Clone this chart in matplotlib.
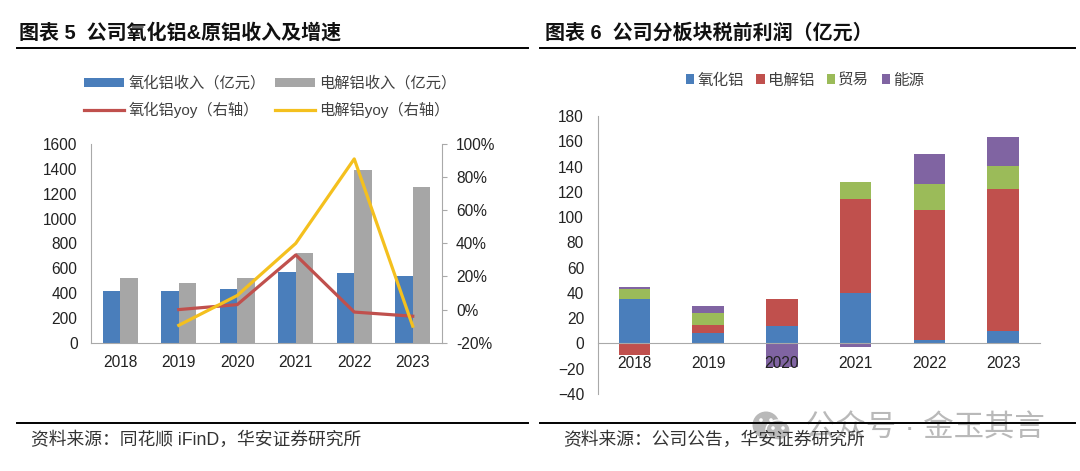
"""Two side by side panels: alumina / aluminium revenue and segment pre-tax profit."""

import matplotlib
matplotlib.use("Agg")
import matplotlib.pyplot as plt
import numpy as np
from matplotlib.patches import Circle, Ellipse

plt.rcParams["font.family"] = ["Liberation Sans", "Noto Sans CJK SC", "DejaVu Sans"]

years = ["2018", "2019", "2020", "2021", "2022", "2023"]

# left panel
alumina_rev = [420, 420, 435, 570, 560, 540]
aluminium_rev = [525, 480, 520, 725, 1390, 1255]
alumina_yoy = [None, 0, 3, 33, -1.5, -4]
aluminium_yoy = [None, -9.5, 8.5, 40, 91, -10]
left_ticks = [0, 200, 400, 600, 800, 1000, 1200, 1400, 1600]
right_ticks = [-20, 0, 20, 40, 60, 80, 100]

# right panel
seg_names = ["氧化铝", "电解铝", "贸易", "能源"]
seg_alumina = [35, 8, 14, 40, 3, 10]
seg_aluminium = [-9, 7, 21.5, 74, 103, 112]
seg_trade = [8, 9, 0, 14, 20.5, 18.5]
seg_energy = [2, 6, -19, -2.5, 23.5, 22.5]
profit_ticks = list(range(-40, 181, 20))

BLUE = "#4a7ebb"
GRAY = "#a6a6a6"
RED = "#c0504d"
YELLOW = "#f4c01e"
GREEN = "#9bbb59"
PURPLE = "#8064a2"
AXIS = "#a9a9a9"
TEXT = "#222222"
W, H = 1080, 471


def px_axes(fig, left, top, right, bottom):
    """Axes placed by pixel edges of the figure."""
    return fig.add_axes([left / W, 1 - bottom / H, (right - left) / W, (bottom - top) / H])


fig = plt.figure(figsize=(W / 100, H / 100), dpi=100)

# left panel: grouped bars plus yoy lines on the right axis
ax = px_axes(fig, 91, 144, 442, 342.7)
x = np.arange(len(years))
bar_w = 0.295
b1 = ax.bar(x - bar_w / 2, alumina_rev, bar_w, color=BLUE, label="氧化铝收入（亿元）")
b2 = ax.bar(x + bar_w / 2, aluminium_rev, bar_w, color=GRAY, label="电解铝收入（亿元）")
ax.set_xlim(-0.5, 5.5)
ax.set_ylim(0, 1600)
ax.set_yticks(left_ticks)
ax.set_xticks(x, years)
ax.tick_params(axis="y", length=0, pad=9.7, labelsize=11.2, labelcolor=TEXT)
ax.tick_params(axis="x", length=0, pad=9, labelsize=11.2, labelcolor=TEXT)
for side in ["top", "right"]:
    ax.spines[side].set_visible(False)
for side in ["left", "bottom"]:
    ax.spines[side].set_color(AXIS)

ax2 = ax.twinx()
yoy1 = np.array(alumina_yoy, dtype=float)
yoy2 = np.array(aluminium_yoy, dtype=float)
l1, = ax2.plot(x, yoy1, color=RED, lw=2.3, label="氧化铝yoy（右轴）")
l2, = ax2.plot(x, yoy2, color=YELLOW, lw=2.3, label="电解铝yoy（右轴）")
ax2.set_ylim(-20, 100)
ax2.set_yticks(right_ticks, [f"{t}%" for t in right_ticks])
ax2.tick_params(axis="y", length=3.6, width=0.8, color=AXIS, pad=6.5, labelsize=11.2, labelcolor=TEXT)
for side in ["top", "left", "bottom"]:
    ax2.spines[side].set_visible(False)
ax2.spines["right"].set_color(AXIS)

fig.legend(
    handles=[b1, l1, b2, l2], ncol=2, loc="center", bbox_to_anchor=(270 / W, 1 - 97 / H),
    frameon=False, fontsize=11, labelcolor="#404040", handlelength=2.65, handleheight=0.5,
    handletextpad=0.25, columnspacing=0.6, labelspacing=0.72, borderpad=0,
)

# right panel: stacked bars, negatives stacked downward from zero
ax3 = px_axes(fig, 597.5, 116, 1040, 394)
series = [seg_alumina, seg_aluminium, seg_trade, seg_energy]
colors = [BLUE, RED, GREEN, PURPLE]
pos = np.zeros(len(years))
neg = np.zeros(len(years))
handles = []
for vals, col, name in zip(series, colors, seg_names):
    vals = np.array(vals, dtype=float)
    base = np.where(vals >= 0, pos, neg)
    handles.append(ax3.bar(x, vals, 0.425, bottom=base, color=col, label=name))
    pos += np.clip(vals, 0, None)
    neg += np.clip(vals, None, 0)
ax3.set_xlim(-0.5, 5.5)
ax3.set_ylim(-40, 180)
ax3.set_yticks(profit_ticks)
ax3.set_xticks(x, years)
ax3.tick_params(axis="y", length=0, pad=9.7, labelsize=11.2, labelcolor=TEXT)
ax3.tick_params(axis="x", length=0, pad=9, labelsize=11.2, labelcolor=TEXT)
ax3.spines["bottom"].set_position(("data", 0))
for side in ["top", "right"]:
    ax3.spines[side].set_visible(False)
for side in ["left", "bottom"]:
    ax3.spines[side].set_color(AXIS)
fig.legend(
    handles=handles, ncol=4, loc="center", bbox_to_anchor=(805 / W, 1 - 80 / H),
    frameon=False, fontsize=11.2, labelcolor="#404040", handlelength=0.55, handleheight=0.55,
    handletextpad=0.2, columnspacing=0.8, borderpad=0,
)

# page furniture in pixel coordinates
page = fig.add_axes([0, 0, 1, 1], zorder=5)
page.set_xlim(0, W)
page.set_ylim(H, 0)
page.axis("off")
page.patch.set_alpha(0)

# watermark goes under the rules and source text
wm = "#b9b9b9"
page.add_patch(Circle((766, 425), 13.5, color=wm, lw=0, zorder=1))
page.add_patch(Ellipse((778, 430), 24, 20, color=wm, ec="white", lw=1, zorder=1))
for ex, ey in [(761, 420), (771, 420), (773, 428), (783, 428)]:
    page.add_patch(Circle((ex, ey), 1.8, color="white", lw=0, zorder=1))
page.text(805, 428, "公众号 · 金玉其言", fontsize=21.9, va="center", color=wm, zorder=1)

for x0, x1 in [(17, 528), (540, 1075)]:
    page.plot([x0, x1], [48, 48], color="black", lw=1.4, zorder=3)
    page.plot([x0, x1], [423, 423], color="black", lw=1.4, zorder=3)
page.text(19, 33, "图表 5  公司氧化铝&原铝收入及增速", fontsize=14.4, fontweight="bold", va="center", color="#111111", zorder=3)
page.text(545, 33, "图表 6  公司分板块税前利润（亿元）", fontsize=14.4, fontweight="bold", va="center", color="#111111", zorder=3)
page.text(31, 440, "资料来源：同花顺 iFinD，华安证券研究所", fontsize=12.8, va="center", color="#333333", zorder=3)
page.text(563, 440, "资料来源：公司公告，华安证券研究所", fontsize=12.8, va="center", color="#333333", zorder=3)

fig.savefig("out.png", dpi=100)
